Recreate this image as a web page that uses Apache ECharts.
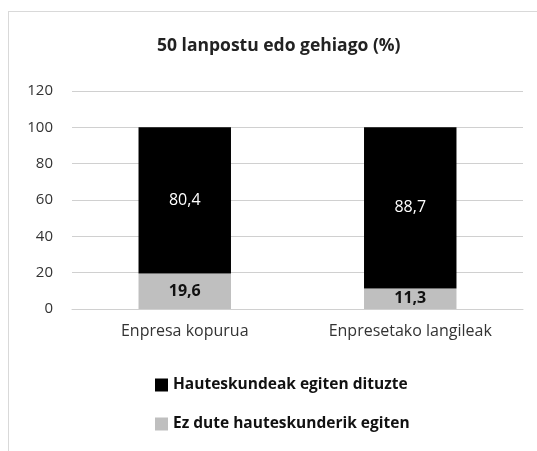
<!DOCTYPE html>
<html>
<head>
<meta charset="utf-8">
<script src="https://cdn.jsdelivr.net/npm/echarts@6/dist/echarts.min.js"></script>
<style>
  html, body { margin: 0; padding: 0; background: #fff; }
  #frame { position: absolute; left: 8px; top: 11px; width: 540px; height: 450px;
           border-left: 1px solid #d9d9d9; border-top: 1px solid #d9d9d9; }
  #main { position: absolute; left: 0; top: 0; width: 537px; height: 451px; }
</style>
</head>
<body>
<div id="frame"></div>
<div id="main"></div>
<script>
// datuak
var categories = ['Enpresa kopurua', 'Enpresetako langileak'];
var ezDute = [19.6, 11.3];
var egitenDituzte = [80.4, 88.7];
var yTicks = [0, 20, 40, 60, 80, 100, 120];

var fontName = 'Open Sans';
var chart = echarts.init(document.getElementById('main'), null, { renderer: 'canvas' });

function fmt(p) {
  return String(p.value).replace('.', ',');
}

var option = {
  backgroundColor: 'transparent',
  animation: false,
  title: {
    text: '50 lanpostu edo gehiago (%)',
    left: 152,
    top: 32,
    textStyle: { fontFamily: fontName, fontSize: 17.5, fontWeight: 'bold', color: '#222' }
  },
  legend: {
    orient: 'vertical',
    left: 150,
    top: 372,
    itemWidth: 13,
    itemHeight: 13,
    itemGap: 23,
    icon: 'rect',
    data: ['Hauteskundeak egiten dituzte', 'Ez dute hauteskunderik egiten'],
    textStyle: { fontFamily: fontName, fontSize: 15.5, fontWeight: 'bold', color: '#111' }
  },
  grid: { left: 72, right: 14, top: 91, height: 218 },
  xAxis: {
    type: 'category',
    data: categories,
    axisLine: { lineStyle: { color: '#d0d0d0', width: 1 } },
    axisTick: { show: false },
    axisLabel: { fontFamily: fontName, fontSize: 16, color: '#333', margin: 14 }
  },
  yAxis: {
    type: 'value',
    min: yTicks[0],
    max: yTicks[yTicks.length - 1],
    interval: 20,
    axisLine: { show: false },
    axisTick: { show: false },
    splitLine: { lineStyle: { color: '#d0d0d0', width: 1 } },
    axisLabel: { fontFamily: fontName, fontSize: 15, color: '#333', margin: 19 }
  },
  series: [
    {
      name: 'Ez dute hauteskunderik egiten',
      type: 'bar',
      stack: 'a',
      barWidth: '41%',
      data: ezDute,
      itemStyle: { color: '#bfbfbf' },
      label: {
        show: true, position: 'inside', formatter: fmt,
        fontFamily: fontName, fontSize: 16, fontWeight: 'bold', color: '#111'
      }
    },
    {
      name: 'Hauteskundeak egiten dituzte',
      type: 'bar',
      stack: 'a',
      data: egitenDituzte,
      itemStyle: { color: '#000000' },
      label: {
        show: true, position: 'inside', formatter: fmt,
        fontFamily: fontName, fontSize: 16, color: '#fff'
      }
    }
  ]
};
chart.setOption(option);
</script>
</body>
</html>
